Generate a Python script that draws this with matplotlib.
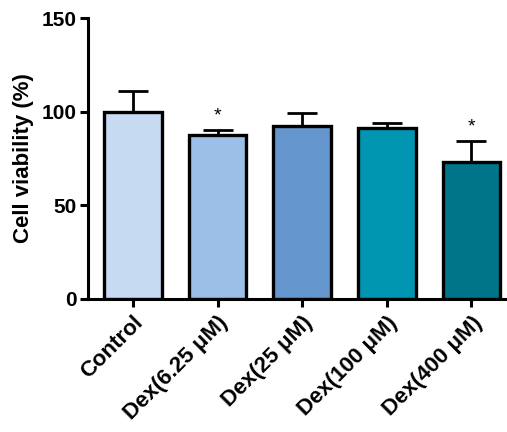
import numpy as np
import matplotlib.pyplot as plt

plt.rcParams['font.family'] = ['Liberation Sans', 'DejaVu Sans']
plt.rcParams['font.weight'] = 'bold'

groups = ['Control', 'Dex(6.25 μM)', 'Dex(25 μM)', 'Dex(100 μM)', 'Dex(400 μM)']
viability = [100.0, 87.6, 92.5, 91.5, 73.3]
sd = [11.2, 2.5, 6.6, 2.6, 11.1]
stars = ['', '*', '', '', '*']
colors = ['#C6DBF1', '#9BBFE7', '#6495CD', '#0095B0', '#00758A']

fig = plt.figure(figsize=(5.07, 4.32), dpi=100)
ax = fig.add_axes([0.174, 0.308, 0.826, 0.650])

x = np.arange(len(groups))
ax.bar(x, viability, width=0.68, color=colors, edgecolor='black', linewidth=2.4, zorder=2)
ax.errorbar(x, viability, yerr=[np.zeros(len(sd)), sd], fmt='none', ecolor='black',
            elinewidth=2.0, capsize=11, capthick=2.0, zorder=1)

for xi, v, s, st in zip(x, viability, sd, stars):
    if st:
        ax.text(xi, v + s + 3, st, ha='center', va='bottom', fontsize=14, fontweight='normal')

ax.set_xlim(-0.53, 4.42)
ax.set_ylim(0, 150)
ax.set_yticks([0, 50, 100, 150])
ax.set_xticks(x)
ax.set_xticklabels(groups, rotation=45, ha='right', rotation_mode='anchor', fontsize=16)
ax.tick_params(axis='y', labelsize=15, width=2.2, length=6, pad=2)
ax.tick_params(axis='x', width=2.2, length=6)
ax.set_ylabel('Cell viability (%)', fontsize=16, fontweight='bold', labelpad=6)

for side in ['top', 'right']:
    ax.spines[side].set_visible(False)
for side in ['left', 'bottom']:
    ax.spines[side].set_linewidth(2.2)

fig.savefig('out.png', dpi=100)
